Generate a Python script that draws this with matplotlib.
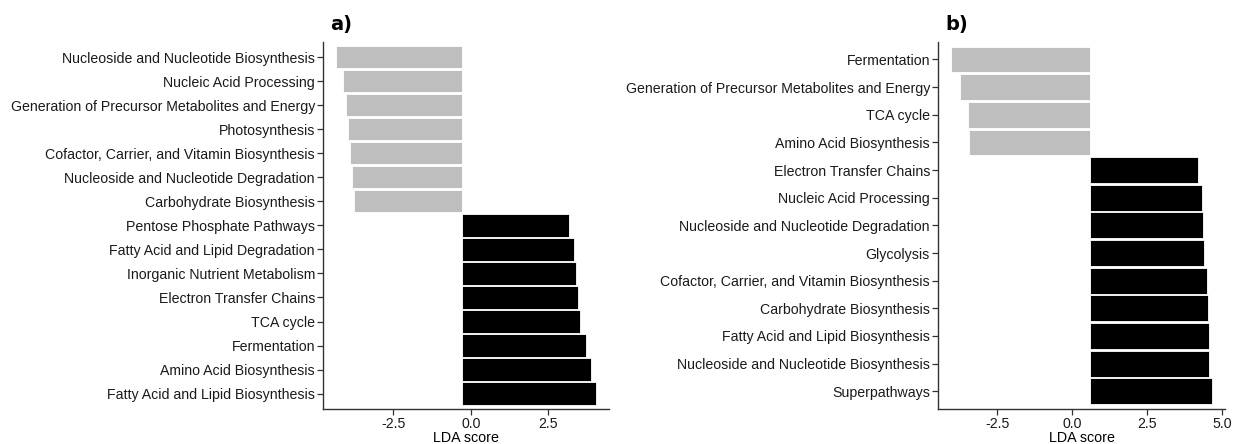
import matplotlib
matplotlib.use("Agg")
import matplotlib.pyplot as plt

plt.rcParams['font.family'] = ['Liberation Sans', 'DejaVu Sans']

# Panel a: pathway classes and LDA scores (top to bottom)
labels_a = [
    "Nucleoside and Nucleotide Biosynthesis",
    "Nucleic Acid Processing",
    "Generation of Precursor Metabolites and Energy",
    "Photosynthesis",
    "Cofactor, Carrier, and Vitamin Biosynthesis",
    "Nucleoside and Nucleotide Degradation",
    "Carbohydrate Biosynthesis",
    "Pentose Phosphate Pathways",
    "Fatty Acid and Lipid Degradation",
    "Inorganic Nutrient Metabolism",
    "Electron Transfer Chains",
    "TCA cycle",
    "Fermentation",
    "Amino Acid Biosynthesis",
    "Fatty Acid and Lipid Biosynthesis",
]
scores_a = [-4.33, -4.10, -4.03, -3.97, -3.88, -3.82, -3.75,
            3.15, 3.32, 3.38, 3.44, 3.51, 3.70, 3.88, 4.04]
base_a = -0.29

# Panel b
labels_b = [
    "Fermentation",
    "Generation of Precursor Metabolites and Energy",
    "TCA cycle",
    "Amino Acid Biosynthesis",
    "Electron Transfer Chains",
    "Nucleic Acid Processing",
    "Nucleoside and Nucleotide Degradation",
    "Glycolysis",
    "Cofactor, Carrier, and Vitamin Biosynthesis",
    "Carbohydrate Biosynthesis",
    "Fatty Acid and Lipid Biosynthesis",
    "Nucleoside and Nucleotide Biosynthesis",
    "Superpathways",
]
scores_b = [-4.05, -3.77, -3.49, -3.44,
            4.21, 4.35, 4.39, 4.42, 4.52, 4.53, 4.56, 4.58, 4.68]
base_b = 0.59

xticks = {"a": [-2.5, 0.0, 2.5], "b": [-2.5, 0.0, 2.5, 5.0]}
xlims = {"a": (-4.75, 4.46), "b": (-4.48, 5.12)}

W, H = 1233, 444
fig = plt.figure(figsize=(W / 100, H / 100), dpi=100)

ax_a = fig.add_axes([323.3 / W, 35 / H, 286 / W, 367.3 / H])
ax_b = fig.add_axes([938.3 / W, 35 / H, 287 / W, 367.3 / H])


def draw_panel(ax, labels, scores, base, ticks, xlim, tag):
    n = len(labels)
    ypos = list(range(n))
    colors = ["#bebebe" if s < base else "black" for s in scores]
    widths = [s - base for s in scores]
    ax.barh(ypos, widths, left=base, height=0.93, color=colors,
            edgecolor="white", linewidth=0.6)
    ax.set_yticks(ypos)
    ax.set_yticklabels(labels)
    ax.set_ylim(n - 0.5 + 0.14, -0.5 - 0.14)
    ax.set_xlim(*xlim)
    ax.set_xticks(ticks)
    ax.set_xticklabels([f"{t:.1f}" for t in ticks])
    for side in ("top", "right"):
        ax.spines[side].set_visible(False)
    for side in ("left", "bottom"):
        ax.spines[side].set_color("#333333")
        ax.spines[side].set_linewidth(1.0)
    ax.tick_params(axis="both", length=4, width=0.9, color="#333333",
                   labelsize=10.2, labelcolor="#1a1a1a", pad=2)
    ax.set_xlabel("LDA score", fontsize=10.3, color="black", labelpad=0)
    ax.text(0.025, 1.022, tag, transform=ax.transAxes, fontsize=14,
            fontweight="bold", family="DejaVu Sans", ha="left", va="bottom")


draw_panel(ax_a, labels_a, scores_a, base_a, xticks["a"], xlims["a"], "a)")
draw_panel(ax_b, labels_b, scores_b, base_b, xticks["b"], xlims["b"], "b)")

fig.savefig("out.png", dpi=100)
